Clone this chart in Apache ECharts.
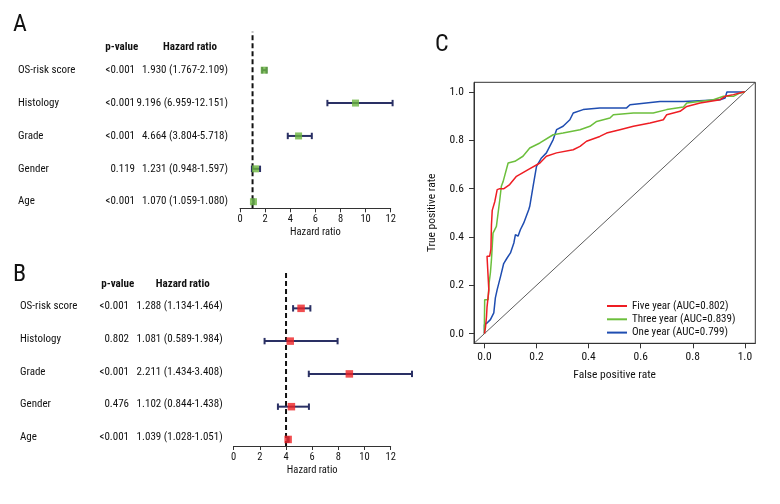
<!DOCTYPE html>
<html><head><meta charset="utf-8">
<script src="https://cdn.jsdelivr.net/npm/echarts@6/dist/echarts.min.js"></script>
<style>html,body{margin:0;padding:0;background:#fff}#c{width:780px;height:504px}</style>
</head><body><div id="c"></div>
<script>
// ---------- Data ----------
const variables = ['OS-risk score','Histology','Grade','Gender','Age'];
const rowPos = [5,4,3,2,1];

// Panel A (univariate)
const aPValue = ['<0.001','<0.001','<0.001','0.119','<0.001'];
const aHRText = ['1.930 (1.767-2.109)','9.196 (6.959-12.151)','4.664 (3.804-5.718)','1.231 (0.948-1.597)','1.070 (1.059-1.080)'];
const aHR    = [1.930, 9.196, 4.664, 1.231, 1.070];
const aLow   = [1.767, 6.959, 3.804, 0.948, 1.059];
const aHigh  = [2.109, 12.151, 5.718, 1.597, 1.080];
const aRef = 1;

// Panel B (multivariate) — positions as drawn in the figure
const bPValue = ['<0.001','0.802','<0.001','0.476','<0.001'];
const bHRText = ['1.288 (1.134-1.464)','1.081 (0.589-1.984)','2.211 (1.434-3.408)','1.102 (0.844-1.438)','1.039 (1.028-1.051)'];
const bPoint = [5.15, 4.32, 8.84, 4.41, 4.16];
const bLow   = [4.54, 2.36, 5.74, 3.38, 4.11];
const bHigh  = [5.86, 7.94, 13.63, 5.75, 4.20];
const bRef = 4;

const hrTicks = [0,2,4,6,8,10,12];

// Panel C ROC curves
const fiveFPR = [0,0.004,0.008,0.01,0.017,0.01,0.02,0.025,0.027,0.03,0.04,0.049,0.059,0.075,0.097,0.123,0.168,0.213,0.238,0.277,0.341,0.367,0.392,0.443,0.469,0.52,0.572,0.636,0.687,0.70,0.751,0.777,0.828,0.905,0.924,0.956,0.995,1.0];
const fiveTPR = [0,0.025,0.07,0.11,0.18,0.32,0.32,0.35,0.45,0.51,0.547,0.596,0.60,0.60,0.617,0.651,0.679,0.706,0.734,0.748,0.761,0.775,0.796,0.816,0.83,0.844,0.858,0.872,0.885,0.906,0.92,0.94,0.954,0.968,0.982,0.989,1.0,1.0];
const threeFPR = [0,0,0.001,0.014,0.018,0.023,0.027,0.033,0.046,0.059,0.065,0.072,0.091,0.117,0.148,0.174,0.213,0.264,0.302,0.367,0.405,0.431,0.482,0.495,0.572,0.648,0.70,0.764,0.777,0.879,0.918,0.956,0.982,1.0];
const threeTPR = [0,0.05,0.14,0.14,0.21,0.252,0.306,0.416,0.444,0.554,0.61,0.63,0.706,0.713,0.734,0.768,0.789,0.823,0.83,0.844,0.858,0.878,0.892,0.906,0.913,0.913,0.927,0.938,0.954,0.968,0.982,0.982,0.996,1.0];
const oneFPR = [0,0,0.01,0.023,0.036,0.042,0.049,0.062,0.074,0.087,0.10,0.113,0.119,0.129,0.138,0.151,0.17,0.174,0.187,0.20,0.219,0.238,0.264,0.277,0.302,0.328,0.341,0.379,0.443,0.546,0.559,0.674,0.764,0.905,0.924,0.931,1.0];
const oneTPR = [0,0.037,0.044,0.058,0.086,0.148,0.182,0.237,0.29,0.313,0.334,0.375,0.41,0.403,0.43,0.458,0.513,0.527,0.61,0.692,0.727,0.748,0.803,0.844,0.858,0.885,0.913,0.927,0.934,0.934,0.947,0.961,0.961,0.968,0.975,1.0,1.0];
const rocNames = ['Five year (AUC=0.802)','Three year (AUC=0.839)','One year (AUC=0.799)'];
const rateTicks = [0,0.2,0.4,0.6,0.8,1.0];

// ---------- Styles ----------
const FONT = "'Roboto Condensed','DejaVu Sans Condensed',sans-serif";
const TXT = '#111';
const BAR = '#2a3064';

function zip(a,b){return a.map((v,i)=>[v,b[i]]);}

function forestAxes(gridIndex){
  return {
    x: {gridIndex, type:'value', min:0, max:12, interval:2,
      axisLine:{show:true,onZero:false,lineStyle:{color:'#333',width:1}},
      axisTick:{show:true,length:4,lineStyle:{color:'#333'}},
      axisLabel:{fontFamily:FONT,fontSize:10.5,color:TXT,margin:6},
      splitLine:{show:false},
      name:'Hazard ratio', nameLocation:'middle', nameGap:19,
      nameTextStyle:{fontFamily:FONT,fontSize:10.5,color:TXT}},
    y: {gridIndex, type:'value', min:0.8, max:6.17, show:false}
  };
}

function tableSeries(idx, pv, hr, cols){
  return {
    type:'custom', xAxisIndex:idx, yAxisIndex:idx, clip:false, silent:true,
    data: rowPos.map((r,i)=>[0,r,i]),
    renderItem:function(params, api){
      const i = api.value(2);
      const y = api.coord([0, api.value(1)])[1] + cols.dy;
      const st = (t,x,align,bold)=>({type:'text', style:{text:t,x:x,y:y,textAlign:align,textVerticalAlign:'middle',
        font:(bold?'bold ':'')+'11px '+FONT, fill:TXT}});
      const children = [st(variables[i],cols.name,'left'), st(pv[i],cols.p,'right'), st(hr[i],cols.hr,'right')];
      if(i===0){
        const yh = api.coord([0, api.value(1)+cols.hdr])[1];
        children.push({type:'text',style:{text:'p-value',x:cols.pc,y:yh,textAlign:'center',textVerticalAlign:'middle',font:'bold 11px '+FONT,fill:TXT}});
        children.push({type:'text',style:{text:'Hazard ratio',x:cols.hc,y:yh,textAlign:'center',textVerticalAlign:'middle',font:'bold 11px '+FONT,fill:TXT}});
      }
      return {type:'group', children};
    }
  };
}

function errSeries(idx, lo, hi){
  return {
    type:'custom', xAxisIndex:idx, yAxisIndex:idx, clip:false, z:3,
    data: rowPos.map((r,i)=>[lo[i],hi[i],r]),
    renderItem:function(params, api){
      const p1 = api.coord([api.value(0), api.value(2)]);
      const p2 = api.coord([api.value(1), api.value(2)]);
      const h = 3.2;
      const s = {stroke:BAR, lineWidth:2};
      return {type:'group', children:[
        {type:'line', shape:{x1:p1[0],y1:p1[1],x2:p2[0],y2:p2[1]}, style:s},
        {type:'line', shape:{x1:p1[0],y1:p1[1]-h,x2:p1[0],y2:p1[1]+h}, style:s},
        {type:'line', shape:{x1:p2[0],y1:p2[1]-h,x2:p2[0],y2:p2[1]+h}, style:s}
      ]};
    }
  };
}

function refSeries(idx, x){
  return {type:'line', xAxisIndex:idx, yAxisIndex:idx, data:[[x,0.8],[x,6.17]], symbol:'none', z:2,
    lineStyle:{color:'#111',width:2,type:[5,3]}, silent:true};
}

function pointSeries(idx, pts, color, size){
  return {type:'scatter', xAxisIndex:idx, yAxisIndex:idx, data: zip(pts,rowPos), symbol:'rect',
    symbolSize:size, itemStyle:{color}, z:5, silent:true};
}

const A = forestAxes(0), B = forestAxes(1);

const rocColors = ['#ee1d23','#6cbf3c','#1f4db1'];
const rocData = [zip(fiveFPR,fiveTPR), zip(threeFPR,threeTPR), zip(oneFPR,oneTPR)];

const rateAxis = (type)=>({
  gridIndex:2, type:'value', min:-0.04, max:1.04,
  axisLine:{show:true, onZero:false, lineStyle:{color:'#333',width:1}},
  axisTick:{show:true, inside:false, length:5, customValues:rateTicks, lineStyle:{color:'#333'}},
  axisLabel:{customValues:rateTicks, formatter:v=>v.toFixed(1), fontFamily:FONT, fontSize:11.5, color:TXT, margin:type==='x'?8:10},
  splitLine:{show:false},
  name: type==='x'?'False positive rate':'True positive rate',
  nameLocation:'middle', nameGap: type==='x'?26:36,
  nameTextStyle:{fontFamily:FONT,fontSize:11.5,color:TXT}
});

const titleStyle = {fontFamily:FONT,fontSize:24,fontWeight:'normal',color:TXT};
const option = {
  animation:false,
  textStyle:{fontFamily:FONT},
  title:[
    {text:'A', left:13, top:13, padding:0, textStyle:titleStyle},
    {text:'B', left:13, top:263, padding:0, textStyle:titleStyle},
    {text:'C', left:435, top:33, padding:0, textStyle:titleStyle}
  ],
  grid:[
    {left:240, top:31.7, width:150.7, height:176.6},
    {left:233.7, top:270, width:157, height:176},
    {left:474, top:82.3, width:281.3, height:261, show:true, borderColor:'#333', borderWidth:1}
  ],
  xAxis:[A.x, B.x, rateAxis('x')],
  yAxis:[A.y, B.y, rateAxis('y')],
  legend:{
    orient:'vertical', left:607, top:299.5, padding:0, itemWidth:20, itemHeight:2, itemGap:0.3, icon:'rect',
    textStyle:{fontFamily:FONT,fontSize:11,color:TXT,lineHeight:13},
    data:rocNames
  },
  series:[
    tableSeries(0, aPValue, aHRText, {name:18, p:135, hr:228, pc:121.7, hc:190, hdr:0.7, dy:0}),
    refSeries(0, aRef),
    errSeries(0, aLow, aHigh),
    pointSeries(0, aHR, '#6ab43e', 7),
    tableSeries(1, bPValue, bHRText, {name:20, p:129, hr:222.7, pc:117.7, hc:182.7, hdr:0.72, dy:-2}),
    refSeries(1, bRef),
    errSeries(1, bLow, bHigh),
    pointSeries(1, bPoint, '#ee2224', 7.5),
    {type:'line', xAxisIndex:2, yAxisIndex:2, data:[[-0.04,-0.04],[1.04,1.04]], symbol:'none',
      lineStyle:{color:'#333',width:0.8}, silent:true},
    ...rocNames.map((n,i)=>({name:n, type:'line', xAxisIndex:2, yAxisIndex:2, data:rocData[i],
      symbol:'none', lineStyle:{color:rocColors[i],width:1.5}, itemStyle:{color:rocColors[i]}, z:3-i+3}))
  ]
};

const chart = echarts.init(document.getElementById('c'), null, {renderer:'canvas'});
chart.setOption(option);
</script></body></html>
